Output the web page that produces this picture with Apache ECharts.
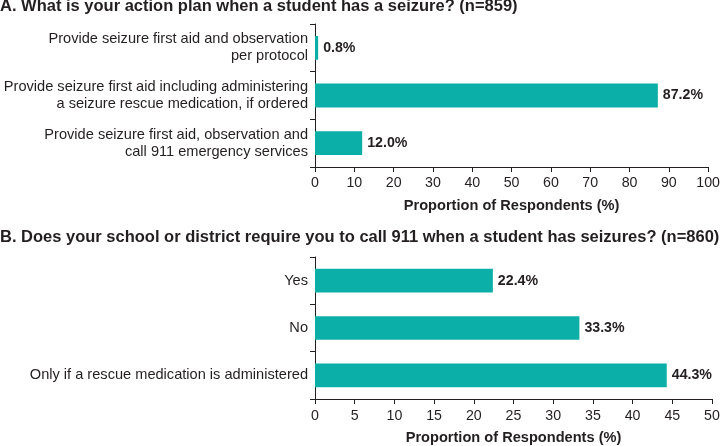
<!DOCTYPE html>
<html>
<head>
<meta charset="utf-8">
<script src="https://cdn.jsdelivr.net/npm/echarts@6/dist/echarts.min.js"></script>
<style>html,body{margin:0;padding:0;background:#fff}#c{width:723px;height:446px}</style>
</head>
<body>
<div id="c"></div>
<script>
const titleA = 'A. What is your action plan when a student has a seizure? (n=859)';
const titleB = 'B. Does your school or district require you to call 911 when a student has seizures? (n=860)';
const categoriesA = [
  'Provide seizure first aid and observation\nper protocol',
  'Provide seizure first aid including administering\na seizure rescue medication, if ordered',
  'Provide seizure first aid, observation and\ncall 911 emergency services'
];
const valuesA = [0.8, 87.2, 12.0];
const categoriesB = ['Yes', 'No', 'Only if a rescue medication is administered'];
const valuesB = [22.4, 33.3, 44.3];
const axisName = 'Proportion of Respondents (%)';

const txt = '#231f20';
const bar = '#0caea8';
const font = 'Liberation Sans, Arial, Helvetica, sans-serif';

function xAx(idx, max, interval, margin) {
  return {
    type: 'value', gridIndex: idx, min: 0, max: max, interval: interval,
    name: axisName, nameLocation: 'middle', nameGap: 31,
    nameTextStyle: {color: txt, fontSize: 14.6, fontWeight: 'bold', fontFamily: font},
    axisLine: {show: true, lineStyle: {color: txt, width: 1}},
    axisTick: {show: true, length: 5, lineStyle: {color: txt}},
    axisLabel: {color: txt, fontSize: 14.2, fontFamily: font, margin: margin},
    splitLine: {show: false}
  };
}
function yAx(idx, cats) {
  return {
    type: 'category', gridIndex: idx, data: cats, inverse: true,
    axisLine: {show: true, lineStyle: {color: txt, width: 1}},
    axisTick: {show: true, length: 5, lineStyle: {color: txt}},
    axisLabel: {color: txt, fontSize: 14.6, fontFamily: font, margin: 7, lineHeight: 17, align: 'right'}
  };
}
function ser(idx, vals) {
  return {
    type: 'bar', xAxisIndex: idx, yAxisIndex: idx, data: vals, barWidth: '50%',
    itemStyle: {color: bar},
    label: {show: true, position: 'right', distance: 5, color: txt, fontSize: 14.2, fontWeight: 'bold', fontFamily: font,
      formatter: p => p.value.toFixed(1) + '%'}
  };
}

const chart = echarts.init(document.getElementById('c'), null, {renderer: 'canvas'});
chart.setOption({
  animation: false,
  backgroundColor: '#fff',
  title: [
    {text: titleA, left: 0, top: -2, padding: 0, textStyle: {color: txt, fontSize: 16.5, fontWeight: 'bold', fontFamily: font}},
    {text: titleB, left: 0, top: 229, padding: 0, textStyle: {color: txt, fontSize: 16.5, fontWeight: 'bold', fontFamily: font}}
  ],
  grid: [
    {left: 315, right: 11, top: 24, height: 143},
    {left: 315, right: 11, top: 257, height: 142}
  ],
  xAxis: [xAx(0, 100, 10, 9), xAx(1, 50, 5, 10)],
  yAxis: [yAx(0, categoriesA), yAx(1, categoriesB)],
  series: [ser(0, valuesA), ser(1, valuesB)]
});
</script>
</body>
</html>
